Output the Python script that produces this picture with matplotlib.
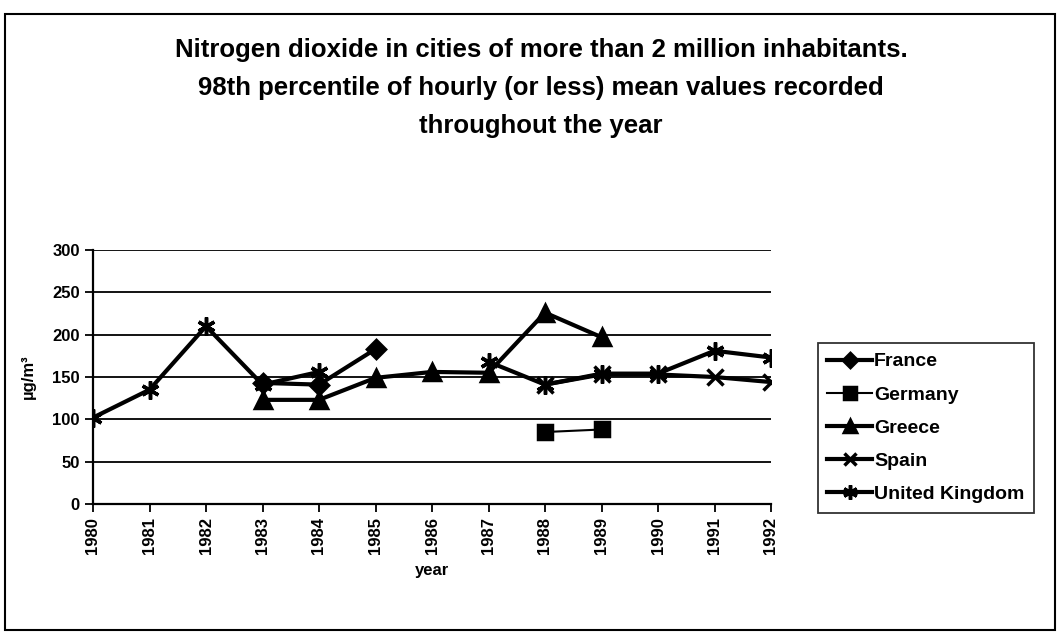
import numpy as np
import matplotlib
matplotlib.use('Agg')
import matplotlib.pyplot as plt
from matplotlib.patches import Rectangle

plt.rcParams['font.family'] = ['Liberation Sans', 'DejaVu Sans']

years = list(range(1980, 1993))
nan = np.nan

france = [nan, nan, nan, 143, 141, 183, nan, nan, nan, nan, nan, nan, nan]
germany = [nan, nan, nan, nan, nan, nan, nan, nan, 85, 88, nan, nan, nan]
greece = [nan, nan, nan, 123, 123, 149, 156, 155, 226, 197, nan, nan, nan]
spain = [nan, nan, nan, nan, nan, nan, nan, nan, 141, 153, 153, 150, 144]
uk = [102, 135, 210, 141, 156, nan, nan, 168, 141, 154, 154, 181, 173]

series = [
    ('France', france, 'D', 9, 3),
    ('Germany', germany, 's', 10, 1.5),
    ('Greece', greece, '^', 11, 3),
    ('Spain', spain, 'x', 11, 3),
    ('United Kingdom', uk, (6, 2, 0), 13, 3),
]

fig = plt.figure(figsize=(10.6, 6.32), dpi=100)
fig.patches.append(Rectangle((5 / 1060, 2 / 632), 1050 / 1060, 616 / 632,
                             transform=fig.transFigure, fill=False,
                             edgecolor='black', lw=1.5))

ax = fig.add_axes([93 / 1060, 1 - 504 / 632, 678 / 1060, 254 / 632])

for name, vals, mk, ms, lw in series:
    ax.plot(years, vals, color='black', lw=lw, marker=mk, ms=ms,
            mew=2.5, mfc='black', mec='black', label=name)

ax.set_xlim(1980, 1992)
ax.set_ylim(0, 300)
ax.set_yticks(range(0, 301, 50))
ax.set_xticks(years)
ax.set_xticklabels([str(y) for y in years], rotation=90, fontsize=12, fontweight='bold')
for lab in ax.get_yticklabels():
    lab.set_fontsize(12)
    lab.set_fontweight('bold')
ax.yaxis.grid(True, color='black', lw=1.3)
ax.set_axisbelow(True)
ax.spines['top'].set_visible(False)
ax.spines['right'].set_visible(False)
ax.spines['left'].set_linewidth(1.6)
ax.spines['bottom'].set_linewidth(1.6)
ax.tick_params(axis='both', direction='out', length=6, width=1.3, colors='black')
ax.set_xlabel('year', fontsize=12, fontweight='bold', labelpad=6)
ax.set_ylabel('µg/m³', fontsize=12, fontweight='bold', labelpad=12)

fig.text(541 / 1060, 1 - 88 / 632,
         'Nitrogen dioxide in cities of more than 2 million inhabitants.\n'
         '98th percentile of hourly (or less) mean values recorded\n'
         'throughout the year',
         ha='center', va='center', fontsize=18.5, fontweight='bold', linespacing=1.75)

leg = fig.legend(loc='center left', bbox_to_anchor=(808 / 1060, 1 - 428 / 632),
                 frameon=True, fancybox=False, edgecolor='black', fontsize=14,
                 handlelength=2.3, labelspacing=0.8, borderpad=0.5, handletextpad=0.1,
                 markerscale=0.8)
leg.get_frame().set_linewidth(1.3)
for t in leg.get_texts():
    t.set_fontweight('bold')

fig.savefig('out.png', dpi=100, facecolor='white')
